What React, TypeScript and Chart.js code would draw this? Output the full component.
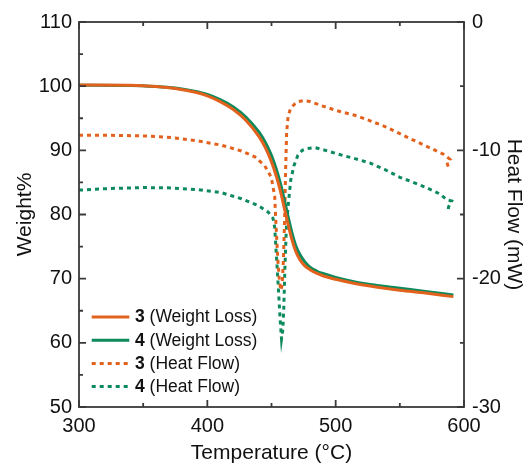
import React, { useEffect, useRef } from 'react';
import { Chart, registerables } from 'chart.js';

Chart.register(...registerables);

const FONT = '"Liberation Sans", Arial, Helvetica, sans-serif';
const ORANGE = '#e2611c';
const GREEN = '#0c8a5c';
const INK = '#111111';
const FRAME = '#3a3a3a';

// ---- data ----
const weightTemps = [300, 340, 360, 375, 390, 400, 410, 420, 430, 440, 445, 450, 454, 457, 460, 463, 466, 469, 472, 476, 480, 485, 490, 500, 515, 530, 550, 570, 591.7];
const weight3 = [100.2, 100.15, 99.95, 99.65, 99.1, 98.5, 97.6, 96.4, 94.7, 92.2, 90.5, 88.2, 85.8, 83.6, 81.0, 78.4, 76.0, 74.2, 73.0, 72.0, 71.4, 70.85, 70.45, 69.9, 69.25, 68.75, 68.2, 67.75, 67.2];
const weight4 = [100.15, 100.12, 99.95, 99.7, 99.2, 98.7, 97.9, 96.8, 95.2, 92.9, 91.3, 89.2, 86.9, 84.8, 82.3, 79.6, 77.1, 75.1, 73.8, 72.6, 71.8, 71.2, 70.8, 70.2, 69.5, 69.0, 68.5, 68.0, 67.45];

const heatTemps3 = [300, 325, 351, 372, 393, 411, 426.5, 437, 444.7, 449.8, 451.2, 452.5, 453.5, 455, 456.2, 457.3, 458.3, 459.3, 460.3, 461, 461.8, 463, 465, 468, 471, 475, 480, 490, 502, 515, 527, 538, 550, 560.5, 572, 584, 589.1, 586.8, 588];
const heat3 = [-8.83, -8.83, -8.88, -9.0, -9.27, -9.6, -10.05, -10.5, -11.2, -12.1, -12.86, -13.6, -15.8, -18.6, -20.2, -20.9, -20.5, -18.5, -15.0, -11.5, -8.6, -7.3, -6.7, -6.4, -6.2, -6.12, -6.2, -6.55, -6.94, -7.27, -7.7, -8.13, -8.7, -9.2, -9.74, -10.3, -10.7, -10.95, -11.4];

const heatTemps4 = [300, 325, 351, 372, 393, 411, 426.5, 439.5, 447.3, 451.2, 452.5, 454, 455.5, 456.8, 457.8, 458.8, 459.6, 460.5, 461.5, 463, 465, 467.5, 470.5, 474, 477.4, 483.9, 490.4, 502, 515, 527, 538.4, 550, 558, 569.6, 581.3, 586.5, 590.4, 588, 587.6];
const heat4 = [-13.1, -12.97, -12.9, -12.93, -13.06, -13.3, -13.77, -14.3, -14.8, -15.3, -16.0, -18.5, -21.0, -23.3, -24.7, -24.0, -22.2, -19.0, -16.2, -14.3, -12.3, -11.2, -10.4, -10.0, -9.87, -9.79, -9.95, -10.3, -10.65, -11.0, -11.5, -12.1, -12.4, -12.86, -13.4, -13.85, -13.95, -14.4, -14.7];

const seriesLabels = ['3 (Weight Loss)', '4 (Weight Loss)', '3 (Heat Flow)', '4 (Heat Flow)'];

const xTicks = [300, 400, 500, 600];
const xMinorTicks = [350, 450, 550];
const leftTicks = [50, 60, 70, 80, 90, 100, 110];
const leftMinorTicks = [55, 65, 75, 85, 95, 105];
const rightTicks = [-30, -20, -10, 0];
const rightMinorTicks = [-25, -15, -5];

const toPoints = (xs: number[], ys: number[]) => xs.map((x, i) => ({ x, y: ys[i] }));

const framePlugin = {
  id: 'frameTicks',
  afterDatasetsDraw(chart: any) {
    const { ctx, chartArea } = chart;
    const { left, right, top, bottom } = chartArea;
    const sx = chart.scales.x;
    const sy = chart.scales.y;
    const sy2 = chart.scales.y2;
    const MAJ = 7;
    const MIN = 4;
    ctx.save();
    ctx.strokeStyle = FRAME;
    ctx.lineWidth = 1.8;
    ctx.beginPath();
    const seg = (x0: number, y0: number, x1: number, y1: number) => {
      ctx.moveTo(x0, y0);
      ctx.lineTo(x1, y1);
    };
    xTicks.forEach((v) => {
      const p = sx.getPixelForValue(v);
      seg(p, bottom, p, bottom - MAJ);
      seg(p, top, p, top + MAJ);
    });
    xMinorTicks.forEach((v) => {
      const p = sx.getPixelForValue(v);
      seg(p, bottom, p, bottom - MIN);
      seg(p, top, p, top + MIN);
    });
    leftTicks.forEach((v) => {
      const p = sy.getPixelForValue(v);
      seg(left, p, left + MAJ, p);
    });
    leftMinorTicks.forEach((v) => {
      const p = sy.getPixelForValue(v);
      seg(left, p, left + MIN, p);
    });
    rightTicks.forEach((v) => {
      const p = sy2.getPixelForValue(v);
      seg(right, p, right - MAJ, p);
    });
    rightMinorTicks.forEach((v) => {
      const p = sy2.getPixelForValue(v);
      seg(right, p, right - MIN, p);
    });
    ctx.stroke();
    ctx.strokeRect(left, top, right - left, bottom - top);
    ctx.restore();
  },
};

const legendPlugin = {
  id: 'mixedLegend',
  afterDraw(chart: any) {
    const { ctx, chartArea } = chart;
    const x0 = chartArea.left + 12.7;
    const x1 = chartArea.left + 50.3;
    const tx = chartArea.left + 56;
    const rowH = 23.2;
    const y0 = chartArea.bottom - 90;
    ctx.save();
    chart.data.datasets.forEach((ds: any, i: number) => {
      const y = y0 + i * rowH;
      ctx.strokeStyle = ds.borderColor;
      ctx.lineWidth = ds.borderWidth;
      ctx.setLineDash(ds.borderDash || []);
      ctx.lineCap = 'butt';
      ctx.beginPath();
      ctx.moveTo(x0, y);
      ctx.lineTo(x1, y);
      ctx.stroke();
      ctx.setLineDash([]);
      const label: string = ds.label;
      const sp = label.indexOf(' ');
      const boldPart = label.slice(0, sp);
      const rest = label.slice(sp);
      ctx.fillStyle = INK;
      ctx.textBaseline = 'middle';
      ctx.textAlign = 'left';
      ctx.font = `bold 17.5px ${FONT}`;
      ctx.fillText(boldPart, tx, y + 0.5);
      const w = ctx.measureText(boldPart).width;
      ctx.font = `17.5px ${FONT}`;
      ctx.fillText(rest, tx + w, y + 0.5);
    });
    ctx.restore();
  },
};

export default function App() {
  const ref = useRef<HTMLCanvasElement>(null);

  useEffect(() => {
    if (!ref.current) return;
    Chart.defaults.font.family = FONT;
    const tickFont = { family: FONT, size: 20 };
    const titleFont = { family: FONT, size: 21, lineHeight: 1 };
    const chart = new Chart(ref.current, {
      type: 'line',
      data: {
        datasets: [
          {
            label: seriesLabels[0],
            data: toPoints(weightTemps, weight3),
            borderColor: ORANGE,
            borderWidth: 3,
            pointRadius: 0,
            cubicInterpolationMode: 'monotone',
            yAxisID: 'y',
          },
          {
            label: seriesLabels[1],
            data: toPoints(weightTemps, weight4),
            borderColor: GREEN,
            borderWidth: 3,
            pointRadius: 0,
            cubicInterpolationMode: 'monotone',
            yAxisID: 'y',
          },
          {
            label: seriesLabels[2],
            data: toPoints(heatTemps3, heat3),
            borderColor: ORANGE,
            borderWidth: 3,
            borderDash: [4, 4],
            borderCapStyle: 'butt',
            pointRadius: 0,
            tension: 0,
            yAxisID: 'y2',
          },
          {
            label: seriesLabels[3],
            data: toPoints(heatTemps4, heat4),
            borderColor: GREEN,
            borderWidth: 3,
            borderDash: [4, 4],
            borderCapStyle: 'butt',
            pointRadius: 0,
            tension: 0,
            yAxisID: 'y2',
          },
        ],
      },
      options: {
        animation: false,
        responsive: false,
        devicePixelRatio: 1,
        parsing: false as any,
        normalized: true,
        layout: { padding: { top: 22, left: 0, right: 0, bottom: 0 } },
        plugins: {
          legend: { display: false },
          tooltip: { enabled: false },
        },
        scales: {
          x: {
            type: 'linear',
            position: 'bottom',
            min: 300,
            max: 600,
            afterBuildTicks: (s: any) => {
              s.ticks = xTicks.map((v) => ({ value: v }));
            },
            afterFit: (s: any) => {
              s.height = 57;
            },
            grid: { display: false, drawTicks: false },
            border: { display: false },
            ticks: {
              font: tickFont,
              color: INK,
              padding: 7,
              maxRotation: 0,
              autoSkip: false,
              callback: (v: any) => String(v),
            },
            title: {
              display: true,
              text: 'Temperature (°C)',
              font: titleFont,
              color: INK,
              padding: { top: 0, bottom: 0 },
            },
          },
          y: {
            type: 'linear',
            position: 'left',
            min: 50,
            max: 110,
            afterBuildTicks: (s: any) => {
              s.ticks = leftTicks.map((v) => ({ value: v }));
            },
            afterFit: (s: any) => {
              s.width = 79;
            },
            grid: { display: false, drawTicks: false },
            border: { display: false },
            ticks: {
              font: tickFont,
              color: INK,
              padding: 7,
              autoSkip: false,
              callback: (v: any) => String(v),
            },
            title: {
              display: true,
              text: 'Weight%',
              font: titleFont,
              color: INK,
              padding: { top: 15, bottom: 0 },
            },
          },
          y2: {
            type: 'linear',
            position: 'right',
            min: -30,
            max: 0,
            afterBuildTicks: (s: any) => {
              s.ticks = rightTicks.map((v) => ({ value: v }));
            },
            afterFit: (s: any) => {
              s.width = 65;
            },
            grid: { display: false, drawTicks: false },
            border: { display: false },
            ticks: {
              font: tickFont,
              color: INK,
              padding: 8,
              autoSkip: false,
              callback: (v: any) => String(v),
            },
            title: {
              display: true,
              text: 'Heat Flow (mW)',
              font: titleFont,
              color: INK,
              padding: { top: 4.5, bottom: 0 },
            },
          },
        },
      } as any,
      plugins: [framePlugin, legendPlugin],
    });
    return () => chart.destroy();
  }, []);

  return (
    <div style={{ position: 'fixed', left: 0, top: 0, width: 529, height: 464, background: '#ffffff' }}>
      <canvas ref={ref} width={529} height={464} style={{ display: 'block', width: 529, height: 464 }} />
    </div>
  );
}
